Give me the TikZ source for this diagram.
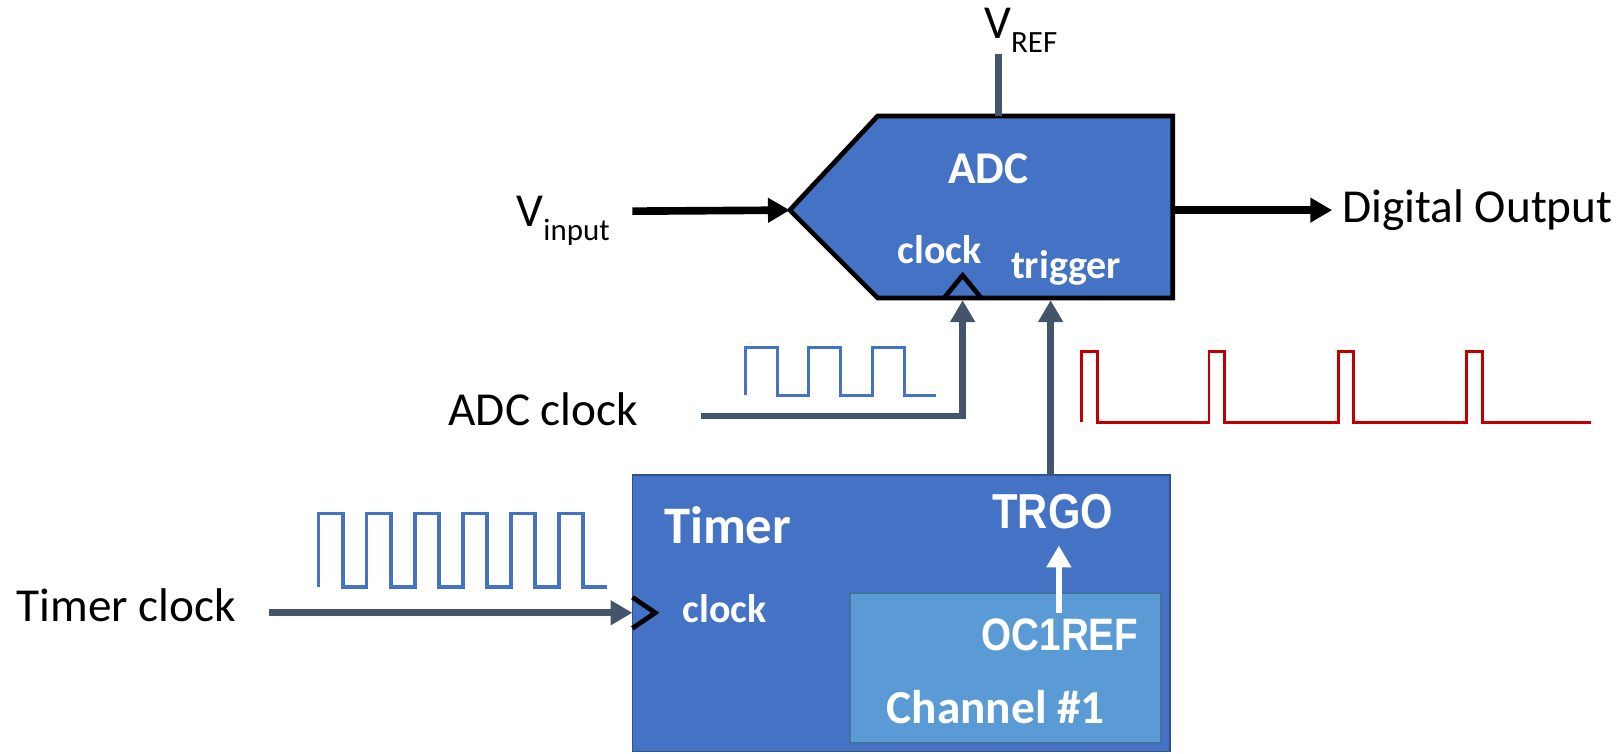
\documentclass[tikz,border=0pt]{standalone}
\usepackage{fontspec}
\setmainfont{Carlito}
\newfontfamily\arialnarrow[FakeStretch=0.85]{Liberation Sans}
\usetikzlibrary{arrows.meta,positioning}

\definecolor{adcblue}{HTML}{4472C4}
\definecolor{boxedge}{HTML}{2F528F}
\definecolor{chanblue}{HTML}{5B9BD5}
\definecolor{chanedge}{HTML}{41719C}
\definecolor{wiregray}{HTML}{44546A}
\definecolor{pulsered}{HTML}{C00000}

\begin{document}
\begin{tikzpicture}[
  x=0.02cm, y=-0.02cm,
  every node/.style={inner sep=0pt, outer sep=0pt},
  wire/.style={wiregray, line width=3.7pt},
  sig/.style={black, line width=4.2pt},
  wave/.style={adcblue, line width=1.8pt, line join=miter},
  redwave/.style={pulsered, line width=1.6pt, line join=miter},
  outlbl/.style={font=\fontsize{26}{30}\selectfont},
  inlbl/.style={text=white, font=\bfseries\fontsize{22}{26}\selectfont},
  biglbl/.style={text=white, font=\bfseries\fontsize{29}{34}\selectfont},
  reglbl/.style={text=white, font=\arialnarrow\bfseries\fontsize{27}{32}\selectfont},
  tip/.style={-{Triangle[length=12pt, width=13pt]}}
]
\useasboundingbox (0,0) rectangle (1568,728);

% ADC block
\coordinate (adcW) at (763,203);
\coordinate (adcE) at (1133,203);
\draw[fill=adcblue, line width=2.6pt, line join=miter]
  (848,112) -- (1133,112) -- (1133,288) -- (848,288) -- (adcW) -- cycle;
\draw[line width=2.6pt, line join=miter] (912,288) -- (930,266) -- (948,288);

\node[biglbl, font=\bfseries\fontsize{25}{30}\selectfont] (adc) at (955,163) {ADC};
\node[inlbl] (adcclk) at (908,241) {clock};
\node[inlbl] (adctrig) at (1030,259) {trigger};

% reference voltage
\node[outlbl, anchor=base west] (vref) at (951,37) {V\raisebox{-0.3em}{\fontsize{17}{20}\selectfont REF}};
\coordinate (vreftop) at (965,52);
\draw[wire] (vreftop) -- (965,112);

% analog input and digital output
\node[outlbl, anchor=base east] (vin) at (589,219) {V\raisebox{-0.3em}{\fontsize{17}{20}\selectfont input}};
\coordinate (vinstart) at (611,204);
\draw[sig, tip] (vinstart) -- (adcW);
\coordinate (doutend) at (1287,203);
\draw[sig, tip] (adcE) -- (doutend);
\node[outlbl, anchor=west] (dout) at (1297,203) {Digital Output};

% ADC clock
\node[outlbl] (adcclock) at (525,395) {ADC clock};
\coordinate (adcclkin) at (677,402);
\coordinate (adcclkpin) at (930,290);
\draw[wire, tip] (adcclkin) -| (adcclkpin);
\draw[wave] (720,382) -- (720,336)
  -- (751,336) -- (751,382) -- (781,382) -- (781,336)
  -- (812,336) -- (812,382) -- (843,382) -- (843,336)
  -- (874,336) -- (874,382) -- (904,382);

% trigger pulses
\draw[redwave] (1045,408) -- (1045,340) -- (1060,340) -- (1060,408)
  -- (1168,408) -- (1168,340) -- (1183,340) -- (1183,408)
  -- (1293,408) -- (1293,340) -- (1308,340) -- (1308,408)
  -- (1417,408) -- (1417,340) -- (1432,340) -- (1432,408)
  -- (1537,408);

% Timer block
\draw[fill=adcblue, draw=boxedge, line width=1pt] (611,459) rectangle (1130,726);
\draw[fill=chanblue, draw=chanedge, line width=1pt] (821,573) rectangle (1122,718);
\node[biglbl] (timer) at (703,507) {Timer};
\node[reglbl] (trgo) at (1017,494) {TRGO};
\node[reglbl, font=\arialnarrow\bfseries\fontsize{25}{30}\selectfont] (ocref) at (1024,613) {OC1REF};
\node[inlbl, font=\bfseries\fontsize{26}{30}\selectfont] (chan) at (962,683) {Channel \#1};
\coordinate (octop) at (1023,592);
\draw[white, line width=3.6pt, tip] (octop) -- (1023,527);
\coordinate (timertrg) at (1015,459);
\coordinate (adctrgpin) at (1015,290);
\draw[wire, tip] (timertrg) -- (adctrgpin);

% Timer clock
\node[outlbl] (tmrclock) at (122,585) {Timer clock};
\coordinate (tmrclkin) at (260,592);
\coordinate (tmrclkpin) at (611,592);
\draw[wire, tip] (tmrclkin) -- (tmrclkpin);
\draw[line width=2.6pt, line join=miter] (611,577) -- (633,592) -- (611,607);
\node[inlbl] (tmrclk) at (700,588) {clock};
\draw[wave] (308,567)
  \foreach \t in {308,354.4,400.8,447.2,493.6,540} {
    -- (\t,496) -- (\t+23.3,496) -- (\t+23.3,567) -- (\t+46.4,567)
  };
\end{tikzpicture}
\end{document}
